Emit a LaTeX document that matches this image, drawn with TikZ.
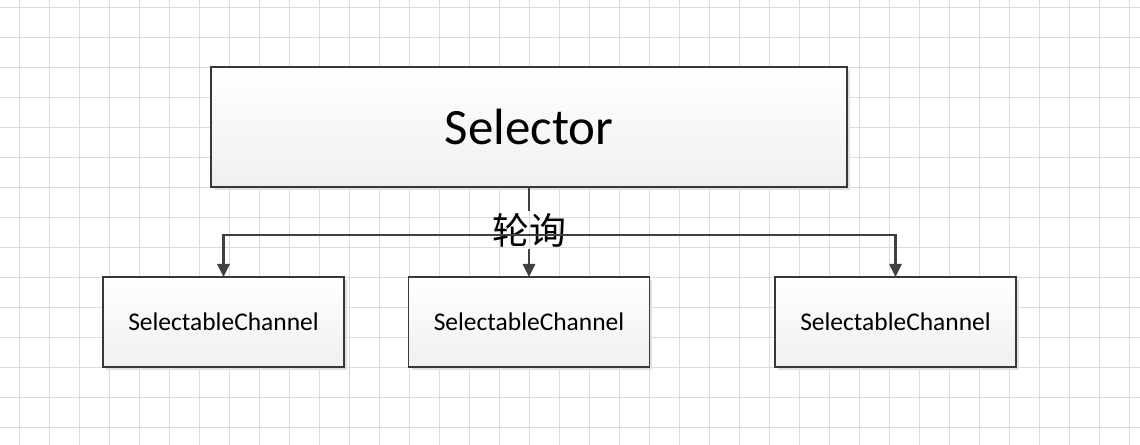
\documentclass[tikz,border=0pt]{standalone}
\usepackage{fontspec}
\setmainfont{Carlito}
\newfontfamily\cjk{Noto Sans CJK SC}
\usetikzlibrary{arrows.meta,shadows}

\tikzset{
  gridline/.style={draw=black!14, line width=0.5pt},
  box/.style={draw=black!78, line width=0.85pt, inner sep=0pt, outer sep=0pt,
    top color=white, bottom color=black!6,
    drop shadow={shadow xshift=1.7pt, shadow yshift=-1.7pt, fill=black!12, opacity=1}},
  conn/.style={draw=black!75, line width=1.25pt},
  tip/.style={-{Triangle[length=7.5pt,width=7pt]}}
}

\begin{document}
\begin{tikzpicture}[x=0.02cm, y=-0.02cm]
	\useasboundingbox (0,0) rectangle (1140,445);
	\fill[white] (0,0) rectangle (1140,445);
	% background grid
	\foreach \x in {19,49,...,1140} \draw[gridline] (\x,0) -- (\x,445);
	\foreach \y in {7,37,...,445} \draw[gridline] (0,\y) -- (1140,\y);
	% boxes
	\node[box, minimum width=12.72cm, minimum height=2.4cm, font=\fontsize{29}{34}\selectfont] (sel) at (529,127) {Selector};
	\node[box, minimum width=4.82cm, minimum height=1.8cm, font=\fontsize{14.5}{17}\selectfont] (ch1) at (223.5,322) {SelectableChannel};
	\node[box, minimum width=4.82cm, minimum height=1.8cm, font=\fontsize{14.5}{17}\selectfont] (ch2) at (529,322) {SelectableChannel};
	\node[box, minimum width=4.82cm, minimum height=1.8cm, font=\fontsize{14.5}{17}\selectfont] (ch3) at (895.5,322) {SelectableChannel};
	% polling label and connectors
	\node[inner sep=1pt, font=\cjk\fontsize{21}{25}\selectfont] (poll) at (529,230) {轮询};
	\coordinate (bar) at (529,235);
	\draw[conn] (sel.south) -- (poll.north);
	\draw[conn, tip] (poll.south) -- (ch2.north);
	\draw[conn, tip] (bar) -| (ch1.north);
	\draw[conn, tip] (bar) -| (ch3.north);
\end{tikzpicture}
\end{document}
